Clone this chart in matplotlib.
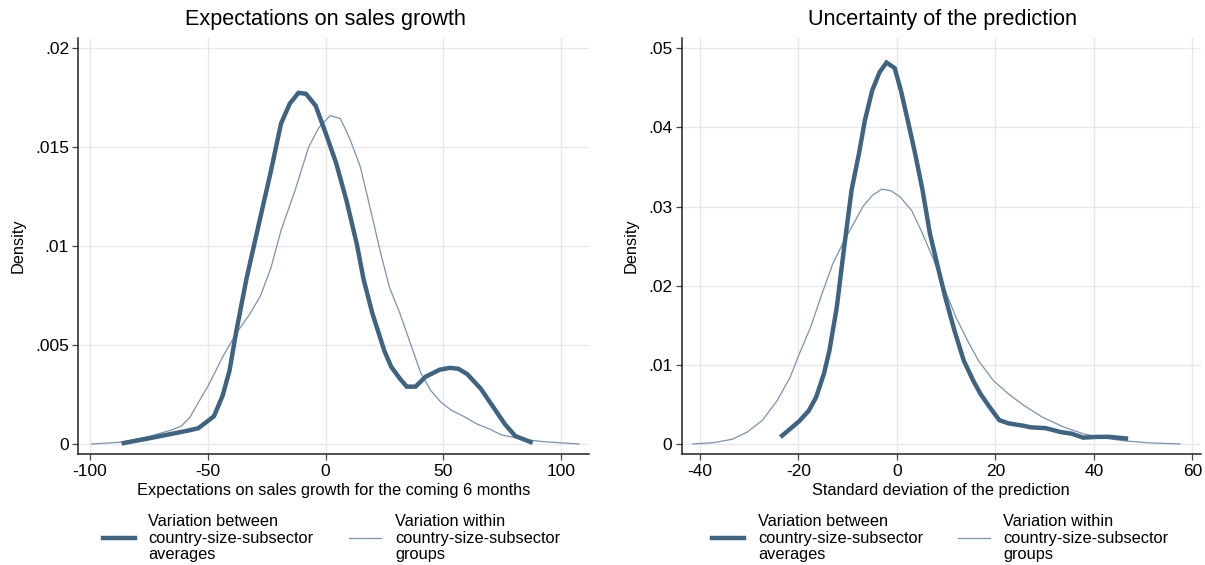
import matplotlib
matplotlib.use("Agg")
import matplotlib.pyplot as plt
from matplotlib.lines import Line2D

plt.rcParams['font.family'] = ['Liberation Sans', 'DejaVu Sans']

# ---- Expectations on sales growth: kernel density estimates ----
growth_between_x = [-85.7, -74.4, -58.3, -54.0, -47.4, -43.7, -40.8, -37.9, -33.5, -27.6,
                    -23.2, -18.9, -15.2, -11.5, -8.3, -4.2, 0.1, 4.5, 8.9, 13.3,
                    16.2, 19.9, 25.0, 27.9, 31.6, 34.5, 38.2, 42.5, 48.4, 52.8,
                    56.4, 60.1, 65.9, 71.8, 76.2, 80.6, 87.1]
growth_between_y = [0.00005, 0.0003, 0.00068, 0.0008, 0.0014, 0.00245, 0.0037, 0.0057, 0.0084, 0.0115,
                    0.0138, 0.0162, 0.0172, 0.01775, 0.0177, 0.0171, 0.0157, 0.0142, 0.0123, 0.0101,
                    0.0083, 0.0066, 0.0047, 0.0039, 0.0033, 0.0029, 0.0029, 0.0034, 0.00375, 0.00385,
                    0.0038, 0.00354, 0.0028, 0.00177, 0.0010, 0.0004, 0.0001]

growth_within_x = [-99.3, -86.1, -74.4, -65.6, -61.3, -57.6, -54.0, -49.6, -43.7, -37.9,
                   -32.0, -27.6, -23.2, -18.9, -13.0, -7.2, -2.8, 2.0, 6.3, 10.4,
                   14.8, 19.2, 23.5, 27.2, 31.6, 36.0, 40.4, 44.7, 49.1, 53.5,
                   58.6, 64.5, 69.6, 74.7, 83.5, 92.3, 107.6]
growth_within_y = [0.0, 0.0001, 0.0004, 0.0007, 0.0009, 0.00135, 0.0021, 0.0030, 0.0044, 0.0056,
                   0.0066, 0.0075, 0.0089, 0.0108, 0.0128, 0.0150, 0.0160, 0.0166, 0.01645, 0.0154,
                   0.0140, 0.0118, 0.0096, 0.0079, 0.0066, 0.0051, 0.0036, 0.0027, 0.0021, 0.0017,
                   0.0014, 0.0010, 0.00076, 0.00046, 0.00025, 0.00012, 0.0]

# ---- Uncertainty of the prediction: kernel density estimates ----
sd_between_x = [-23.3, -21.3, -19.8, -17.9, -16.4, -14.8, -13.7, -12.2, -10.7, -9.2,
                -7.7, -6.5, -5.0, -3.5, -2.1, -0.45, 0.8, 2.2, 3.7, 5.2,
                6.7, 8.3, 9.8, 11.7, 13.6, 15.5, 17.0, 18.9, 20.8, 22.7,
                25.7, 27.2, 30.2, 33.3, 35.5, 37.8, 40.8, 43.1, 46.5]
sd_between_y = [0.00105, 0.0021, 0.0029, 0.0042, 0.0059, 0.0089, 0.0118, 0.0173, 0.0249, 0.0321,
                0.0367, 0.0409, 0.0447, 0.0470, 0.0482, 0.0475, 0.0447, 0.0409, 0.0367, 0.0321,
                0.0266, 0.0224, 0.0186, 0.0143, 0.0105, 0.0080, 0.0063, 0.0046, 0.0030, 0.0026,
                0.0023, 0.0021, 0.0020, 0.0015, 0.0013, 0.0008, 0.0009, 0.0009, 0.0007]

sd_within_x = [-41.4, -37.2, -33.4, -30.4, -27.3, -24.3, -21.7, -19.8, -17.5, -15.2,
               -13.0, -10.7, -8.4, -6.9, -5.0, -3.1, -1.2, 0.7, 3.0, 5.2,
               7.5, 9.8, 12.0, 14.3, 16.6, 19.6, 22.7, 25.7, 29.5, 34.0,
               37.8, 41.6, 46.1, 51.4, 57.5]
sd_within_y = [0.0, 0.00017, 0.0006, 0.0015, 0.0030, 0.0055, 0.0084, 0.0114, 0.0148, 0.0190,
               0.0228, 0.0257, 0.0283, 0.0300, 0.0314, 0.0322, 0.0320, 0.0312, 0.0295, 0.0266,
               0.0232, 0.0194, 0.0160, 0.0131, 0.0105, 0.0080, 0.0063, 0.0049, 0.0034, 0.0021,
               0.0013, 0.0008, 0.0004, 0.00013, 0.0]

# ---- Axis ticks and labels ----
growth_xticks = [-100, -50, 0, 50, 100]
growth_xticklabels = ["-100", "-50", "0", "50", "100"]
growth_yticks = [0, 0.005, 0.01, 0.015, 0.02]
growth_yticklabels = ["0", ".005", ".01", ".015", ".02"]

sd_xticks = [-40, -20, 0, 20, 40, 60]
sd_xticklabels = ["-40", "-20", "0", "20", "40", "60"]
sd_yticks = [0, 0.01, 0.02, 0.03, 0.04, 0.05]
sd_yticklabels = ["0", ".01", ".02", ".03", ".04", ".05"]

titles = ["Expectations on sales growth", "Uncertainty of the prediction"]
xlabels = ["Expectations on sales growth for the coming 6 months",
           "Standard deviation of the prediction"]
legend_labels = ["Variation between\ncountry-size-subsector\naverages",
                 "Variation within\ncountry-size-subsector\ngroups"]

THICK = "#3e6481"
THIN = "#7a93ad"
GRID = "#e8e8e8"
LABEL_SIZE = 11.8

fig = plt.figure(figsize=(12.05, 5.65), dpi=100)
ax1 = fig.add_axes([0.065, 0.197, 0.4238, 0.7357])
ax2 = fig.add_axes([0.5657, 0.197, 0.431, 0.7357])


def style(ax, xticks, xtl, yticks, ytl, xlim, ylim, xlabel):
    ax.set_xlim(*xlim)
    ax.set_ylim(*ylim)
    ax.set_xticks(xticks)
    ax.set_xticklabels(xtl)
    ax.set_yticks(yticks)
    ax.set_yticklabels(ytl)
    for s in ("top", "right"):
        ax.spines[s].set_visible(False)
    for s in ("left", "bottom"):
        ax.spines[s].set_linewidth(1.1)
        ax.spines[s].set_color("#222222")
    ax.tick_params(direction="out", length=4.2, width=0.9, labelsize=12.5,
                   color="#444444", pad=2.5)
    ax.tick_params(axis="x", pad=3.5)
    ax.grid(True, color=GRID, linewidth=1.0)
    ax.set_axisbelow(True)
    ax.set_xlabel(xlabel, fontsize=LABEL_SIZE, labelpad=2.5)
    ax.set_ylabel("Density", fontsize=LABEL_SIZE, labelpad=7)


ax1.plot(growth_within_x, growth_within_y, color=THIN, linewidth=0.9, zorder=3)
ax1.plot(growth_between_x, growth_between_y, color=THICK, linewidth=3.2,
         solid_joinstyle="miter", zorder=4)
style(ax1, growth_xticks, growth_xticklabels, growth_yticks, growth_yticklabels,
      (-105, 111.9), (-0.00049, 0.02052), xlabels[0])

ax2.plot(sd_within_x, sd_within_y, color=THIN, linewidth=0.9, zorder=3)
ax2.plot(sd_between_x, sd_between_y, color=THICK, linewidth=3.2,
         solid_joinstyle="miter", zorder=4)
style(ax2, sd_xticks, sd_xticklabels, sd_yticks, sd_yticklabels,
      (-43.7, 61.75), (-0.00123, 0.0513), xlabels[1])

W, H = 1205.0, 565.0
fig.text(325 / W, 1 - 20 / H, titles[0], fontsize=15.6, ha="center", va="center")
fig.text(942 / W, 1 - 20 / H, titles[1], fontsize=15.6, ha="center", va="center")

# Legends below each panel
legend_spots = [(103, 148, 349, 395), (712, 758, 958, 1003)]
for x_line1, x_txt1, x_line2, x_txt2 in legend_spots:
    yl = 1 - 538 / H
    fig.add_artist(Line2D([x_line1 / W, (x_line1 + 32) / W], [yl, yl],
                          color=THICK, linewidth=3.2, transform=fig.transFigure))
    fig.add_artist(Line2D([x_line2 / W, (x_line2 + 32) / W], [yl, yl],
                          color=THIN, linewidth=0.9, transform=fig.transFigure))
    fig.text(x_txt1 / W, yl, legend_labels[0], fontsize=LABEL_SIZE, ha="left",
             va="center", linespacing=1.1)
    fig.text(x_txt2 / W, yl, legend_labels[1], fontsize=LABEL_SIZE, ha="left",
             va="center", linespacing=1.1)

fig.savefig("out.png", dpi=100)
